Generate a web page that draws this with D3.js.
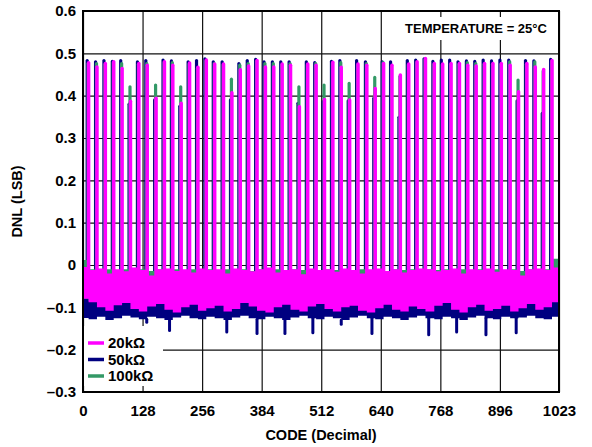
<!DOCTYPE html>
<html>
<head>
<meta charset="utf-8">
<script src="https://cdn.jsdelivr.net/npm/d3@7"></script>
<style>
  body { margin: 0; background: #fff; }
  text { font-family: 'Liberation Sans', Arial, sans-serif; font-weight: bold; fill: #000; }
</style>
</head>
<body>
<svg id="canvas" width="592" height="447"></svg>
<script>
// codes where the big DNL spikes sit
const spikeCodes = [12, 30, 48, 66, 84, 102, 120, 138, 157, 175,
  193, 211, 229, 247, 265, 283, 302, 320, 338, 356,
  374, 392, 410, 428, 446, 465, 483, 501, 519, 537,
  555, 573, 591, 610, 628, 646, 664, 682, 700, 718,
  736, 755, 773, 791, 809, 827, 845, 863, 881, 899,
  918, 936, 954, 972, 990, 1008]

// spike heights (LSB)
const peak20k = [0.478, 0.468, 0.476, 0.480, 0.464, 0.387, 0.476, 0.472, 0.394, 0.480,
  0.472, 0.382, 0.477, 0.467, 0.484, 0.475, 0.475, 0.407, 0.461, 0.470,
  0.483, 0.468, 0.468, 0.475, 0.472, 0.374, 0.475, 0.472, 0.391, 0.479,
  0.467, 0.390, 0.475, 0.472, 0.417, 0.476, 0.472, 0.449, 0.475, 0.480,
  0.488, 0.476, 0.475, 0.476, 0.476, 0.472, 0.470, 0.476, 0.476, 0.476,
  0.472, 0.409, 0.476, 0.468, 0.462, 0.483]
const peak50k = [0.483, 0.480, 0.483, 0.481, 0.483, 0.380, 0.480, 0.483, 0.390, 0.484,
  0.482, 0.375, 0.480, 0.483, 0.487, 0.480, 0.480, 0.390, 0.476, 0.483,
  0.486, 0.480, 0.480, 0.480, 0.480, 0.382, 0.480, 0.478, 0.386, 0.481,
  0.483, 0.388, 0.483, 0.480, 0.394, 0.480, 0.480, 0.349, 0.483, 0.484,
  0.487, 0.481, 0.484, 0.484, 0.480, 0.482, 0.481, 0.484, 0.482, 0.484,
  0.484, 0.388, 0.483, 0.482, 0.358, 0.486]
const peak100k = [0.476, 0.476, 0.474, 0.478, 0.476, 0.421, 0.474, 0.476, 0.425, 0.478,
  0.478, 0.421, 0.475, 0.465, 0.482, 0.476, 0.473, 0.439, 0.472, 0.476,
  0.481, 0.476, 0.476, 0.473, 0.476, 0.421, 0.473, 0.476, 0.425, 0.477,
  0.478, 0.429, 0.473, 0.476, 0.443, 0.478, 0.470, 0.445, 0.473, 0.478,
  0.486, 0.474, 0.473, 0.474, 0.474, 0.478, 0.476, 0.474, 0.474, 0.474,
  0.480, 0.437, 0.474, 0.480, 0.458, 0.481]

// noise band between spikes: upper and lower DNL for each gap (57 gaps)
const top20k = [-0.005, -0.012, -0.008, -0.020, -0.010, -0.015, -0.006, -0.012, -0.025, -0.010,
  -0.008, -0.014, -0.010, -0.018, -0.008, -0.012, -0.010, -0.020, -0.008, -0.012,
  -0.015, -0.010, -0.006, -0.018, -0.012, -0.010, -0.022, -0.008, -0.012, -0.010,
  -0.016, -0.008, -0.012, -0.020, -0.010, -0.008, -0.014, -0.010, -0.018, -0.012,
  -0.008, -0.010, -0.015, -0.012, -0.008, -0.020, -0.010, -0.012, -0.008, -0.016,
  -0.010, -0.012, -0.025, -0.010, -0.008, -0.012, -0.006]
const low20k = [-0.080, -0.088, -0.100, -0.108, -0.095, -0.090, -0.104, -0.110, -0.098, -0.092,
  -0.106, -0.112, -0.100, -0.094, -0.108, -0.102, -0.096, -0.110, -0.104, -0.090,
  -0.098, -0.108, -0.112, -0.100, -0.094, -0.106, -0.110, -0.098, -0.092, -0.104,
  -0.110, -0.100, -0.096, -0.108, -0.112, -0.102, -0.094, -0.106, -0.110, -0.098,
  -0.104, -0.110, -0.096, -0.090, -0.106, -0.112, -0.100, -0.094, -0.108, -0.104,
  -0.096, -0.110, -0.102, -0.092, -0.106, -0.100, -0.088]
const top50k = [-0.040, -0.050, -0.045, -0.055, -0.040, -0.050, -0.045, -0.055, -0.040, -0.050,
  -0.040, -0.050, -0.045, -0.055, -0.040, -0.050, -0.045, -0.055, -0.040, -0.050,
  -0.040, -0.050, -0.045, -0.055, -0.040, -0.050, -0.045, -0.055, -0.040, -0.050,
  -0.040, -0.050, -0.045, -0.055, -0.040, -0.050, -0.045, -0.055, -0.040, -0.050,
  -0.040, -0.050, -0.045, -0.055, -0.040, -0.050, -0.045, -0.055, -0.040, -0.050,
  -0.040, -0.050, -0.045, -0.055, -0.040, -0.050, -0.045]
const low50k = [-0.125, -0.128, -0.122, -0.130, -0.126, -0.120, -0.124, -0.128, -0.122, -0.126,
  -0.130, -0.124, -0.120, -0.126, -0.128, -0.122, -0.126, -0.130, -0.124, -0.120,
  -0.126, -0.128, -0.122, -0.126, -0.130, -0.124, -0.120, -0.126, -0.128, -0.122,
  -0.126, -0.130, -0.124, -0.120, -0.126, -0.128, -0.122, -0.126, -0.130, -0.124,
  -0.120, -0.126, -0.128, -0.122, -0.126, -0.130, -0.124, -0.120, -0.126, -0.128,
  -0.122, -0.126, -0.124, -0.120, -0.126, -0.128, -0.122]
const top100k = [0.012, -0.010, -0.012, -0.010, -0.014, -0.010, -0.012, -0.010, -0.014, -0.010,
  -0.012, -0.010, -0.014, -0.010, -0.012, -0.010, -0.014, -0.010, -0.012, -0.010,
  -0.014, -0.010, -0.012, -0.010, -0.014, -0.010, -0.012, -0.010, -0.014, -0.010,
  -0.012, -0.010, -0.014, -0.010, -0.012, -0.010, -0.014, -0.010, -0.012, -0.010,
  -0.014, -0.010, -0.012, -0.010, -0.014, -0.010, -0.012, -0.010, -0.014, -0.010,
  -0.012, -0.010, -0.014, -0.010, -0.012, -0.010, 0.015]
const low100k = [-0.080, -0.085, -0.082, -0.088, -0.080, -0.086, -0.082, -0.088, -0.080, -0.085,
  -0.080, -0.085, -0.082, -0.088, -0.080, -0.086, -0.082, -0.088, -0.080, -0.085,
  -0.080, -0.085, -0.082, -0.088, -0.080, -0.086, -0.082, -0.088, -0.080, -0.085,
  -0.080, -0.085, -0.082, -0.088, -0.080, -0.086, -0.082, -0.088, -0.080, -0.085,
  -0.080, -0.085, -0.082, -0.088, -0.080, -0.086, -0.082, -0.088, -0.080, -0.085,
  -0.080, -0.085, -0.082, -0.088, -0.080, -0.086, -0.082]

// single-code negative dips of the 50k trace
const dipCodes50k = [137, 186, 309, 374, 434, 494, 555, 621, 743, 803, 866, 931]
const dipValues50k = [-0.135, -0.155, -0.158, -0.162, -0.162, -0.160, -0.140, -0.162, -0.165, -0.158, -0.165, -0.160]

const xTicks = [0, 128, 256, 384, 512, 640, 768, 896, 1023]
const xTickLabels = ['0', '128', '256', '384', '512', '640', '768', '896', '1023']
const yTicks = [-0.3, -0.2, -0.1, 0, 0.1, 0.2, 0.3, 0.4, 0.5, 0.6]
const yTickLabels = ['–0.3', '–0.2', '–0.1', '0', '0.1', '0.2', '0.3', '0.4', '0.5', '0.6']

const legendNames = ['20kΩ', '50kΩ', '100kΩ']
const legendColors = ['#ff00ff', '#000080', '#339966']

const plotLeft = 83, plotRight = 559, plotTop = 11, plotBottom = 392

const svg = d3.select('#canvas')
const x = d3.scaleLinear().domain([0, 1023]).range([plotLeft, plotRight])
const y = d3.scaleLinear().domain([-0.3, 0.6]).range([plotBottom, plotTop])

// gridlines + tick labels
const yAxis = svg.append('g')
  .attr('transform', `translate(${plotLeft},0)`)
  .call(d3.axisLeft(y).tickValues(yTicks).tickSize(-(plotRight - plotLeft)).tickPadding(7)
    .tickFormat((d, i) => yTickLabels[i]))
yAxis.select('.domain').remove()
yAxis.selectAll('line').attr('stroke', '#111').attr('stroke-width', 1.2)
yAxis.selectAll('text').attr('font-family', null).attr('font-size', null).style('font-size', '15px')

const xAxis = svg.append('g')
  .attr('transform', `translate(0,${plotBottom})`)
  .call(d3.axisBottom(x).tickValues(xTicks).tickSize(-(plotBottom - plotTop)).tickPadding(13)
    .tickFormat((d, i) => xTickLabels[i]))
xAxis.select('.domain').remove()
xAxis.selectAll('line').attr('stroke', '#111').attr('stroke-width', 1.2)
xAxis.selectAll('text').attr('font-family', null).attr('font-size', null).style('font-size', '15px')

svg.append('clipPath').attr('id', 'plot')
  .append('rect').attr('x', plotLeft).attr('y', plotTop)
  .attr('width', plotRight - plotLeft).attr('height', plotBottom - plotTop)

const plot = svg.append('g').attr('clip-path', 'url(#plot)')

const gapEdges = [0, ...spikeCodes, 1023]

let drawSeries = (color, shift, width, peaks, tops, lows) => {
  let band = gapEdges.map((c, i) => ({
    code: c,
    top: tops[Math.min(i, tops.length - 1)],
    low: lows[Math.min(i, lows.length - 1)]
  }))
  plot.append('path')
    .datum(band)
    .attr('fill', color)
    .attr('d', d3.area().curve(d3.curveStepAfter)
      .x(d => x(d.code))
      .y0(d => y(d.low))
      .y1(d => y(d.top)))

  plot.selectAll(null)
    .data(spikeCodes)
    .enter()
    .append('line')
    .attr('x1', d => x(d + shift))
    .attr('x2', d => x(d + shift))
    .attr('y1', (d, i) => y(Math.min(tops[i], tops[i + 1])))
    .attr('y2', (d, i) => y(peaks[i]))
    .attr('stroke', color)
    .attr('stroke-width', width)
    .attr('stroke-linecap', 'round')
}

drawSeries('#000080', -3, 3.2, peak50k, top50k, low50k)

plot.selectAll(null)
  .data(dipCodes50k)
  .enter()
  .append('line')
  .attr('x1', d => x(d))
  .attr('x2', d => x(d))
  .attr('y1', d => y(low50k[d3.bisectRight(gapEdges, d) - 1]))
  .attr('y2', (d, i) => y(dipValues50k[i]))
  .attr('stroke', '#000080')
  .attr('stroke-width', 3)
  .attr('stroke-linecap', 'round')

drawSeries('#339966', -1, 3.2, peak100k, top100k, low100k)
drawSeries('#ff00ff', 0, 3.5, peak20k, top20k, low20k)

// frame
svg.append('rect')
  .attr('x', plotLeft).attr('y', plotTop)
  .attr('width', plotRight - plotLeft).attr('height', plotBottom - plotTop)
  .attr('fill', 'none').attr('stroke', '#000').attr('stroke-width', 2)

// temperature note
svg.append('rect').attr('x', 395).attr('y', 17).attr('width', 162).attr('height', 23).attr('fill', '#fff')
svg.append('text')
  .attr('x', 476).attr('y', 28).attr('dy', '0.35em')
  .attr('text-anchor', 'middle')
  .style('font-size', '13px')
  .text('TEMPERATURE = 25°C')

// legend
svg.append('rect').attr('x', 84).attr('y', 326).attr('width', 79).attr('height', 60).attr('fill', '#fff')
legendNames.forEach((name, i) => {
  let ly = 343 + i * 16.5
  svg.append('line')
    .attr('x1', 88).attr('x2', 104).attr('y1', ly).attr('y2', ly)
    .attr('stroke', legendColors[i]).attr('stroke-width', 3.5)
  svg.append('text')
    .attr('x', 108).attr('y', ly).attr('dy', '0.35em')
    .style('font-size', '15px')
    .text(name)
})

// axis titles
svg.append('text')
  .attr('x', (plotLeft + plotRight) / 2).attr('y', 440)
  .attr('text-anchor', 'middle')
  .style('font-size', '14.5px')
  .text('CODE (Decimal)')

svg.append('text')
  .attr('transform', `translate(22,${(plotTop + plotBottom) / 2}) rotate(-90)`)
  .attr('text-anchor', 'middle')
  .style('font-size', '14.5px')
  .text('DNL (LSB)')
</script>
</body>
</html>
